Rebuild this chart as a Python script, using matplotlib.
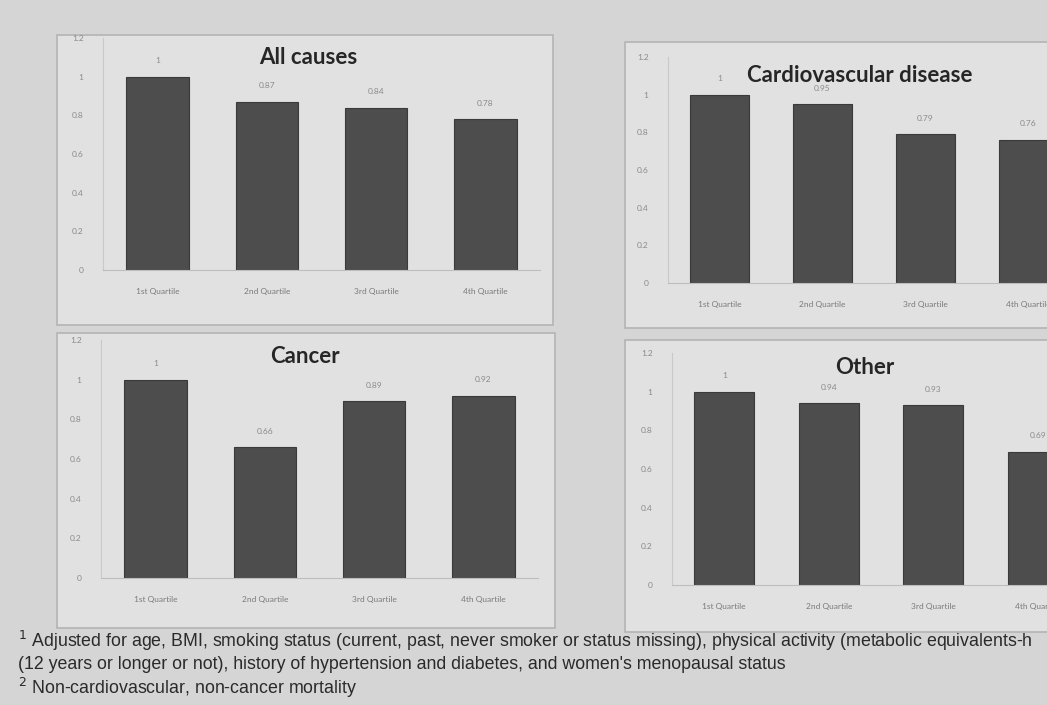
import matplotlib
matplotlib.use("Agg")
import matplotlib.pyplot as plt
from matplotlib.patches import Rectangle

# data
quartiles = ["1st Quartile", "2nd Quartile", "3rd Quartile", "4th Quartile"]
all_causes = [1, 0.87, 0.84, 0.78]
cardio = [1, 0.95, 0.79, 0.76]
cancer = [1, 0.66, 0.89, 0.92]
other = [1, 0.94, 0.93, 0.69]
titles = ["All causes", "Cardiovascular disease", "Cancer", "Other"]
yticks = [0, 0.2, 0.4, 0.6, 0.8, 1, 1.2]
notes = [
    "$^{1}$ Adjusted for age, BMI, smoking status (current, past, never smoker or status missing), "
    "physical activity (metabolic equivalents-h",
    "(12 years or longer or not), history of hypertension and diabetes, and women's menopausal status",
    "$^{2}$ Non-cardiovascular, non-cancer mortality",
]

W, H = 1047, 705
fig = plt.figure(figsize=(W / 100, H / 100), dpi=100)
fig.patch.set_facecolor("#d5d5d5")


def px_box(x0, y0, x1, y1):
    return (x0 / W, 1 - y1 / H, (x1 - x0) / W, (y1 - y0) / H)


# panel frames (x0, y0, x1, y1 in px), axes rects and title centers
frames = [(57, 35, 553, 325), (625, 42, 1062, 328), (57, 333, 555, 628), (625, 340, 1062, 632)]
axrects = [(103, 38, 540, 270), (668, 57, 1080, 283), (101, 340, 538, 578), (672, 353, 1090, 585)]
tpos = [(308, 57), (860, 75), (305, 357), (865, 367)]
series = [all_causes, cardio, cancer, other]

for fr in frames:
    x, y, w, h = px_box(*fr)
    fig.patches.append(Rectangle((x, y), w, h, transform=fig.transFigure, facecolor="#e1e1e1",
                                 edgecolor="#b4b4b4", lw=1.2, zorder=-5))

for vals, rect, title, (tx, ty) in zip(series, axrects, titles, tpos):
    ax = fig.add_axes(px_box(*rect))
    ax.set_facecolor("none")
    xs = range(len(quartiles))
    bars = ax.bar(xs, vals, width=0.57, color="#4d4d4d", edgecolor="#3a3a3a", lw=0.8)
    ax.bar_label(bars, labels=[f"{v:g}" for v in vals], padding=9, fontsize=6,
                 color="#8a8a8a", family="Lato")
    ax.set_xlim(-0.5, 3.5)
    ax.set_ylim(0, 1.2)
    ax.set_yticks(yticks)
    ax.set_yticklabels([f"{t:g}" for t in yticks])
    ax.set_xticks(list(xs))
    ax.set_xticklabels(quartiles)
    ax.tick_params(axis="y", length=0, pad=14, labelsize=6, labelcolor="#8a8a8a")
    ax.tick_params(axis="x", length=0, pad=13, labelsize=6, labelcolor="#7a7a7a")
    for lab in ax.get_xticklabels() + ax.get_yticklabels():
        lab.set_family("Lato")
    for s in ("top", "right"):
        ax.spines[s].set_visible(False)
    ax.spines["left"].set_color("#c9c9c9")
    ax.spines["bottom"].set_color("#bdbdbd")
    ax.spines["left"].set_linewidth(0.8)
    fig.text(tx / W, 1 - ty / H, title, ha="center", va="center", fontsize=16,
             fontweight="bold", color="#262626", family="Lato")

for i, line in enumerate(notes):
    fig.text(18 / W, 1 - (641 + 23.5 * i) / H, line, ha="left", va="center", fontsize=12.8,
             color="#2a2a2a", family="Liberation Sans")

fig.savefig("out.png", dpi=100, facecolor=fig.get_facecolor())
